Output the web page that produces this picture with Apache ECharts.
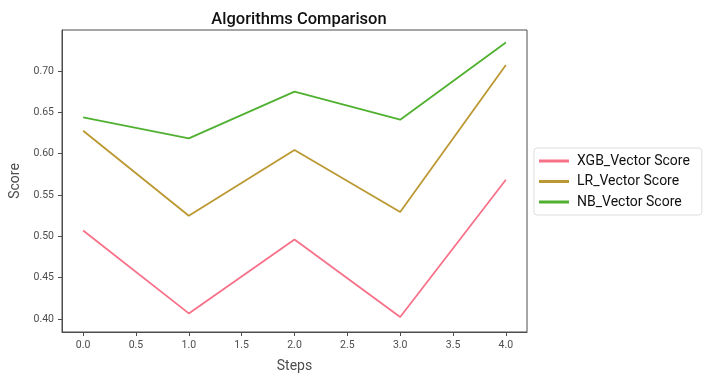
<!DOCTYPE html>
<html><head><meta charset="utf-8">
<script src="https://cdn.jsdelivr.net/npm/echarts@6/dist/echarts.min.js"></script>
<style>html,body{margin:0;padding:0;background:#fff}#c{width:707px;height:381px}</style>
</head><body><div id="c"></div>
<script>
const steps = [0, 1, 2, 3, 4];
const xgbScores = [0.507, 0.4068, 0.4963, 0.4024, 0.5685];
const lrScores = [0.6278, 0.525, 0.6044, 0.5294, 0.7073];
const nbScores = [0.6439, 0.6185, 0.675, 0.6411, 0.7346];
const seriesNames = ['XGB_Vector Score', 'LR_Vector Score', 'NB_Vector Score'];
const colors = ['#f77189', '#bb9832', '#50b131'];

const chart = echarts.init(document.getElementById('c'), null, {renderer: 'canvas'});
const mk = (name, vals, color) => ({
  name, type: 'line', data: steps.map((s, i) => [s, vals[i]]),
  showSymbol: false, symbol: 'none', color,
  lineStyle: {color, width: 1.8}, animation: false
});
const axisCommon = {
  axisLine: {show: true, onZero: false, lineStyle: {color: '#4d4d4d', width: 1}},
  axisTick: {show: true, inside: false, length: 4, lineStyle: {color: '#4d4d4d'}},
  axisLabel: {color: '#4d4d4d', fontFamily: 'Roboto', fontSize: 10.5, showMinLabel: false, showMaxLabel: false},
  splitLine: {show: false},
  nameTextStyle: {color: '#4d4d4d', fontFamily: 'Roboto', fontSize: 14}
};
chart.setOption({
  animation: false,
  title: {text: 'Algorithms Comparison', left: 294, top: 6, textAlign: 'center',
    textStyle: {fontFamily: 'Roboto', fontSize: 16.5, fontWeight: 500, color: '#111'}},
  grid: {left: 62, top: 30, width: 465, height: 302, show: true, borderColor: '#4d4d4d', borderWidth: 1, containLabel: false},
  legend: {
    orient: 'vertical', left: 534, top: 148, data: seriesNames,
    itemWidth: 30, itemHeight: 3, itemGap: 6.5, icon: 'rect',
    padding: [6, 12, 6, 5],
    borderColor: '#dddddd', borderWidth: 1, borderRadius: 3,
    textStyle: {fontFamily: 'Roboto', fontSize: 14, color: '#111', padding: [0, 0, 0, 3]}
  },
  xAxis: Object.assign({}, axisCommon, {
    type: 'value', min: -0.2, max: 4.2, splitNumber: 9,
    name: 'Steps', nameLocation: 'middle', nameGap: 27,
    axisLabel: Object.assign({}, axisCommon.axisLabel, {margin: 8, formatter: v => v.toFixed(1)})
  }),
  yAxis: Object.assign({}, axisCommon, {
    type: 'value', min: 0.3843, max: 0.7496, splitNumber: 7,
    name: 'Score', nameLocation: 'middle', nameGap: 39,
    axisLabel: Object.assign({}, axisCommon.axisLabel, {margin: 8, formatter: v => v.toFixed(2)})
  }),
  series: [mk(seriesNames[0], xgbScores, colors[0]), mk(seriesNames[1], lrScores, colors[1]), mk(seriesNames[2], nbScores, colors[2])]
});
</script></body></html>
